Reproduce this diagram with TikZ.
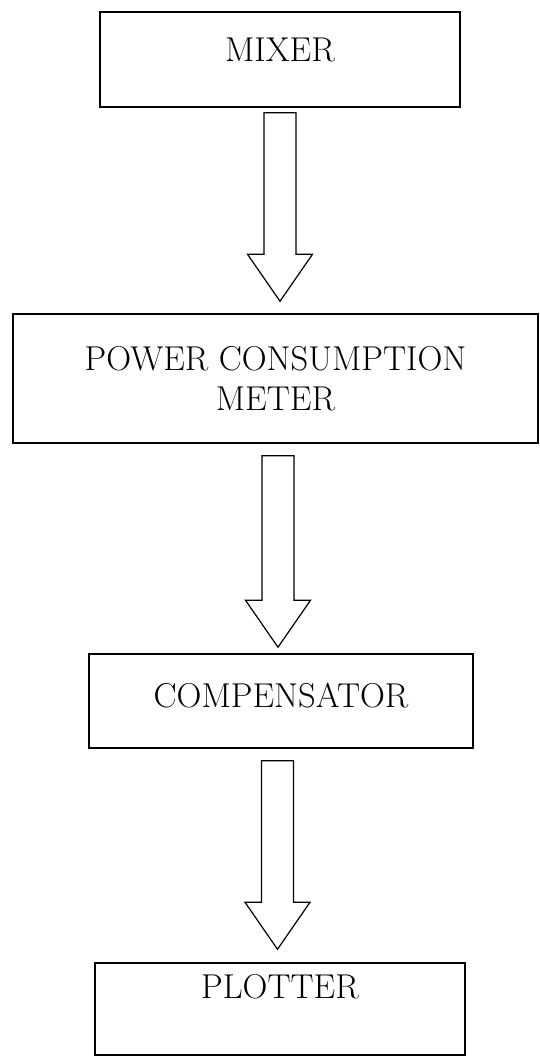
\documentclass[tikz,border=0pt]{standalone}
\usepackage{fontspec}
\usepackage{tikz}
\usetikzlibrary{calc}
\newcommand{\shaftw}{16pt}
\newcommand{\headw}{32.5pt}
\newcommand{\headl}{47pt}
\newcommand{\boxlw}{1.5pt}

\begin{document}
\begin{tikzpicture}[x=1pt,y=-1pt]
        %\draw[help lines] (0,0) grid (540,1057);
        \useasboundingbox (0,0) rectangle (540,1057);
        \tikzset{unit/.style = {draw, line width=\boxlw, inner sep=0pt, align=center,
                font=\fontsize{34.5}{40}\selectfont}}
        \tikzset{flow/.style = {draw, line width=1.2pt, line join=miter,
                to path={let \p1=(\tikztostart), \p2=(\tikztotarget) in
                (\x1-\shaftw,\y1) -- (\x1+\shaftw,\y1) -- (\x1+\shaftw,\y2+\headl)
                -- (\x1+\headw,\y2+\headl) -- (\x1,\y2) -- (\x1-\headw,\y2+\headl)
                -- (\x1-\shaftw,\y2+\headl) -- cycle}}}

        \node[unit, minimum width=360pt, minimum height=95pt, text height=23pt, text depth=18pt] (mixer) at (280,59.5) {MIXER};
        \node[unit, minimum width=525pt, minimum height=129pt] (power) at (275.5,378.5) {POWER CONSUMPTION\\METER};
        \node[unit, minimum width=384pt, minimum height=94pt, text height=23pt, text depth=11pt] (comp) at (281,701) {COMPENSATOR};
        \node[unit, minimum width=370pt, minimum height=92pt, text height=23pt, text depth=45pt] (plot) at (280,1009) {PLOTTER};

        \draw[flow] ([yshift=-5pt]mixer.south) to ([yshift=12pt]power.north);
        \draw[flow] ([xshift=2.5pt,yshift=-12pt]power.south) to ([yshift=6pt]comp.north);
        \draw[flow] ([xshift=-3.5pt,yshift=-12pt]comp.south) to ([yshift=13pt]plot.north);

    \end{tikzpicture}
\end{document}
